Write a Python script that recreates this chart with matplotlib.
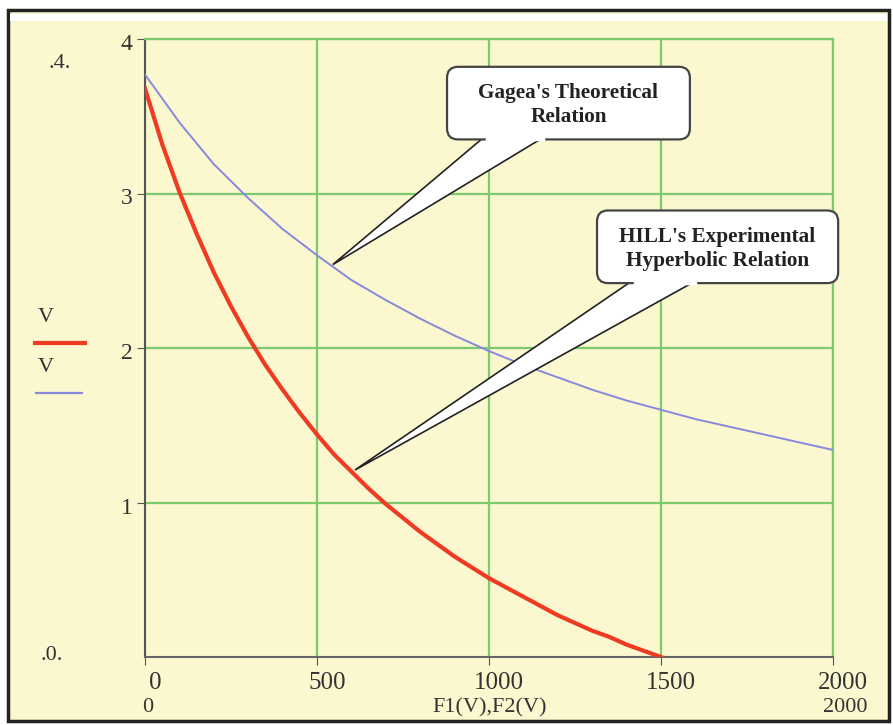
import matplotlib
matplotlib.use('Agg')
import matplotlib.pyplot as plt
import numpy as np
from matplotlib.patches import FancyBboxPatch, Polygon, Rectangle
from matplotlib.transforms import ScaledTranslation

force_red = [0, 50, 100, 150, 200, 250, 300, 350, 400, 450, 500, 550, 600, 650, 700, 750,
             800, 850, 900, 950, 1000, 1050, 1100, 1150, 1200, 1250, 1300, 1350, 1400, 1450, 1500]
v_red = [3.68, 3.32, 3.01, 2.74, 2.49, 2.27, 2.07, 1.89, 1.73, 1.58, 1.44, 1.31, 1.20, 1.09, 0.99, 0.90,
         0.81, 0.73, 0.65, 0.58, 0.51, 0.45, 0.39, 0.33, 0.27, 0.22, 0.17, 0.13, 0.08, 0.04, 0.0]
force_blue = [0, 100, 200, 300, 400, 500, 600, 700, 800, 900, 1000,
              1100, 1200, 1300, 1400, 1500, 1600, 1700, 1800, 1900, 2000]
v_blue = [3.77, 3.46, 3.19, 2.97, 2.77, 2.60, 2.44, 2.31, 2.19, 2.08, 1.98,
          1.89, 1.81, 1.73, 1.66, 1.60, 1.54, 1.49, 1.44, 1.39, 1.34]
x_ticks = [0, 500, 1000, 1500, 2000]
y_ticks = [1, 2, 3, 4]

BG = '#fbf8d0'
GREEN = '#7cc96e'
TXT = '#333333'
SERIF = ['Liberation Serif', 'DejaVu Serif']

fig = plt.figure(figsize=(8.93, 7.25), dpi=100, facecolor='white')
W, H = 893, 725

# panel frame
fig.patches.append(Rectangle((8 / W, 4 / H), 881 / W, 711 / H, transform=fig.transFigure,
                             facecolor=BG, edgecolor='#222222', lw=2.5, zorder=-5))
fig.patches.append(Rectangle((10 / W, 704 / H), 877 / W, 7 / H, transform=fig.transFigure,
                             facecolor='white', edgecolor='none', zorder=-4))

ax = fig.add_axes([145 / W, 1 - 657 / H, 688 / W, 618 / H])
ax.set_zorder(2)
ax.set_facecolor('none')
ax.set_xlim(0, 2000)
ax.set_ylim(0, 4)
ax.set_xticks(x_ticks)
ax.set_yticks(y_ticks)
ax.grid(True, color=GREEN, lw=1.6)
ax.set_axisbelow(True)
for s in ['top', 'right']:
    ax.spines[s].set_color(GREEN)
    ax.spines[s].set_linewidth(1.6)
ax.spines['left'].set_color('#555555')
ax.spines['bottom'].set_color('#666666')
ax.spines['left'].set_linewidth(1.5)
ax.spines['bottom'].set_linewidth(1.5)
ax.tick_params(axis='both', direction='out', length=6, color='#555555', labelcolor=TXT)
ax.tick_params(axis='x', pad=5)
ax.tick_params(axis='y', pad=3)
for lab in ax.get_xticklabels():
    lab.set_family(SERIF)
    lab.set_fontsize(18)
    lab.set_transform(lab.get_transform() + ScaledTranslation(0.1, 0, fig.dpi_scale_trans))
for lab in ax.get_yticklabels():
    lab.set_family(SERIF)
    lab.set_fontsize(17)
    lab.set_transform(lab.get_transform() + ScaledTranslation(0, -0.03, fig.dpi_scale_trans))

ax.plot(force_blue, v_blue, color='#8888dd', lw=1.4, zorder=3)
ax.plot(force_red, v_red, color='#f03a22', lw=3, zorder=3)

# callouts
px_x = 2000 / 688
px_y = 4 / 618
aspect = px_y / px_x


def callout(x0, x1, y0, y1, base, tip, text):
    wedge = Polygon([(base[0], y0 + 3 * px_y), (base[1], y0 + 3 * px_y), tip], closed=True,
                    facecolor='white', edgecolor='#222222', lw=1.2, zorder=6, clip_on=False)
    ax.add_patch(wedge)
    box = FancyBboxPatch((x0, y0), x1 - x0, y1 - y0,
                         boxstyle='round,pad=0,rounding_size=%f' % (11 * px_x),
                         mutation_aspect=aspect, facecolor='white', edgecolor='#444444',
                         lw=1.6, zorder=7, clip_on=False)
    ax.add_patch(box)
    ax.add_line(plt.Line2D([base[0] + 2 * px_x, base[1] - 2 * px_x], [y0, y0], color='white',
                           lw=2.5, zorder=8, clip_on=False))
    ax.text((x0 + x1) / 2, (y0 + y1) / 2 - 2 * px_y, text, ha='center', va='center', family=SERIF,
            fontsize=15.3, fontweight='bold', color='#222222', linespacing=1.3, zorder=9)


callout(878, 1584, 3.35, 3.82, (988, 1163), (546, 2.54),
        "Gagea's Theoretical\nRelation")
callout(1314, 2015, 2.42, 2.89, (1419, 1605), (610, 1.21),
        "HILL's Experimental\nHyperbolic Relation")

# Mathcad-style side labels
def ftext(x, y, s, size=16, **kw):
    fig.text(x / W, 1 - y / H, s, family=SERIF, fontsize=size, color=TXT,
             ha='center', va='center', **kw)


ftext(60, 63, '.4.', 16)
ftext(52, 655, '.0.', 16)
ftext(46, 318, 'V', 16)
ftext(46, 368, 'V', 16)
fig.add_artist(plt.Line2D([35 / W, 85 / W], [1 - 343 / H, 1 - 343 / H], color='#f03a22', lw=3,
                          transform=fig.transFigure))
fig.add_artist(plt.Line2D([36 / W, 82 / W], [1 - 393 / H, 1 - 393 / H], color='#8888dd', lw=1.6,
                          transform=fig.transFigure))
ftext(148, 708, '0', 16)
ftext(490, 708, 'F1(V),F2(V)', 16)
ftext(845, 708, '2000', 16)

fig.savefig('out.png', dpi=100, facecolor='white')
